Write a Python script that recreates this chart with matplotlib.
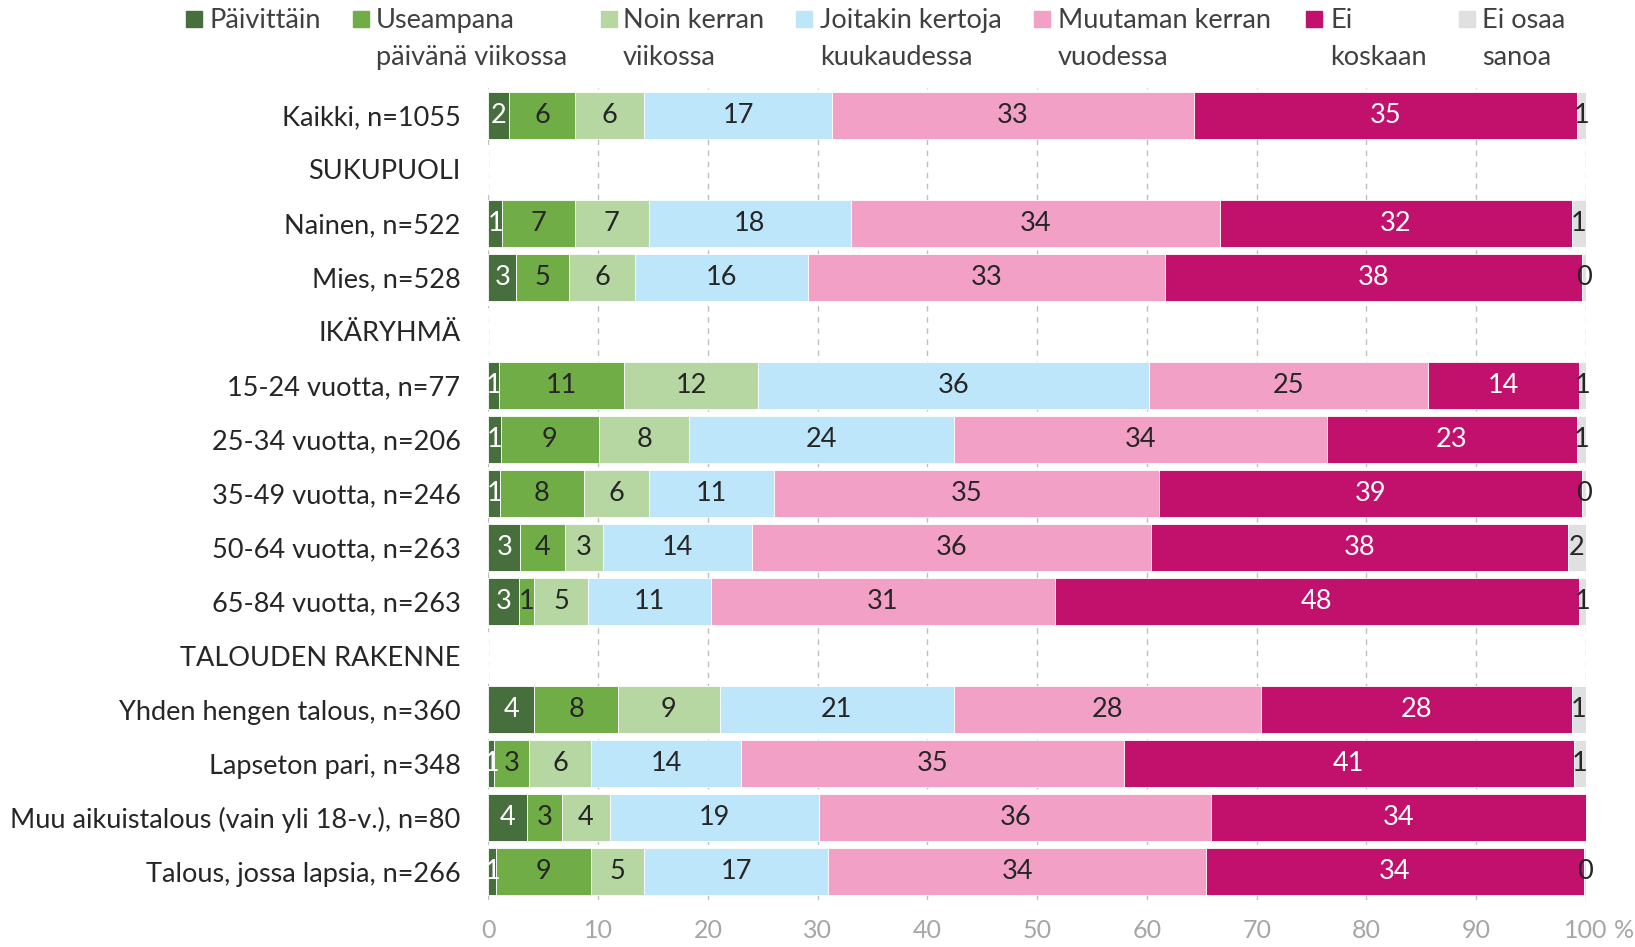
import numpy as np
import matplotlib
matplotlib.use("Agg")
from matplotlib import pyplot as plt
from matplotlib.patches import Rectangle

plt.rcParams['font.family'] = ['Lato', 'DejaVu Sans']

nan = np.nan

# Rows top to bottom (group headers have no bars)
rows = ['Kaikki, n=1055', 'SUKUPUOLI', 'Nainen, n=522', 'Mies, n=528',
        'IKÄRYHMÄ', '15-24 vuotta, n=77', '25-34 vuotta, n=206',
        '35-49 vuotta, n=246', '50-64 vuotta, n=263', '65-84 vuotta, n=263',
        'TALOUDEN RAKENNE', 'Yhden hengen talous, n=360', 'Lapseton pari, n=348',
        'Muu aikuistalous (vain yli 18-v.), n=80', 'Talous, jossa lapsia, n=266']

series_names = ['Päivittäin', 'Useampana\npäivänä viikossa', 'Noin kerran\nviikossa',
                'Joitakin kertoja\nkuukaudessa', 'Muutaman kerran\nvuodessa',
                'Ei\nkoskaan', 'Ei osaa\nsanoa']

# Shares (%)
paivittain = [1.88, nan, 1.26, 2.55, nan, 0.97, 1.15, 1.05, 2.90, 2.82, nan, 4.15, 0.53, 3.52, 0.70]
useampana = [6.00, nan, 6.62, 4.81, nan, 11.37, 8.92, 7.67, 4.08, 1.33, nan, 7.67, 3.17, 3.17, 8.64]
noin = [6.34, nan, 6.73, 5.99, nan, 12.27, 8.23, 5.92, 3.44, 4.91, nan, 9.27, 5.64, 4.36, 4.88]
joitakin = [17.08, nan, 18.43, 15.76, nan, 35.61, 24.12, 11.36, 13.63, 11.26, nan, 21.30, 13.70, 19.07, 16.76]
muutaman = [32.96, nan, 33.60, 32.51, nan, 25.36, 34.03, 35.13, 36.34, 31.26, nan, 28.02, 34.89, 35.75, 34.44]
ei = [34.89, nan, 32.06, 38.06, nan, 13.75, 22.70, 38.51, 37.99, 47.82, nan, 28.29, 40.94, 34.13, 34.36]
ei_osaa = [0.85, nan, 1.30, 0.32, nan, 0.67, 0.85, 0.36, 1.62, 0.60, nan, 1.30, 1.13, nan, 0.22]

colors = ['#476e3d', '#70ad47', '#b6d7a1', '#bde6fb', '#f3a0c7', '#c1116c', '#e0e0e0']
label_colors = ['white', '#262626', '#262626', '#262626', '#262626', 'white', '#262626']

all_series = [paivittain, useampana, noin, joitakin, muutaman, ei, ei_osaa]

fig = plt.figure(figsize=(16.35, 9.47), dpi=100)
ax = fig.add_axes([0.2987, 0.0496, 0.6713, 0.8574])

y = np.arange(len(rows))
left = np.zeros(len(rows))
for vals, col, lcol in zip(all_series, colors, label_colors):
    v = np.array(vals, dtype=float)
    w = np.nan_to_num(v)
    ax.barh(y, w, left=left, height=0.87, color=col, edgecolor='white',
            linewidth=0.6, zorder=2)
    for i, val in enumerate(v):
        if not np.isnan(val):
            ax.text(left[i] + val / 2, y[i], f"{val:.0f}", ha='center', va='center',
                    fontsize=19.5, color=lcol, zorder=3)
    left += w

ax.set_xlim(0, 100)
ax.set_ylim(14.52, -0.5)
ax.set_yticks(y)
ax.set_yticklabels(rows, fontsize=19.5, color='#262626')
ax.set_xticks(np.arange(0, 101, 10))
ax.set_xticklabels([str(t) for t in range(0, 101, 10)], fontsize=18, color='#a6a6a6')
ax.tick_params(axis='y', length=0, pad=20)
ax.tick_params(axis='x', length=0, pad=14)
ax.annotate('%', xy=(100, 0), xycoords=('data', 'axes fraction'),
            xytext=(20, -14), textcoords='offset points', ha='left', va='top',
            fontsize=18, color='#a6a6a6')
ax.grid(axis='x', color='#bfbfbf', linestyle=(0, (4, 4)), linewidth=1, zorder=0)
ax.set_axisbelow(True)
for s in ax.spines.values():
    s.set_visible(False)

# Legend along the top
W, H = 1635, 947
sq_x = [186, 353, 601, 796, 1034, 1306, 1459]
txt_x = [209, 376, 623, 820, 1058, 1330, 1482]
for name, col, sx, tx in zip(series_names, colors, sq_x, txt_x):
    fig.patches.append(Rectangle((sx / W, 1 - 27 / H), 16 / W, 16 / H,
                                 transform=fig.transFigure, color=col))
    fig.text(tx / W, 1 - 8 / H, name, ha='left', va='top', fontsize=19.5,
             color='#404040', linespacing=1.58)

plt.savefig('out.png', dpi=100)
